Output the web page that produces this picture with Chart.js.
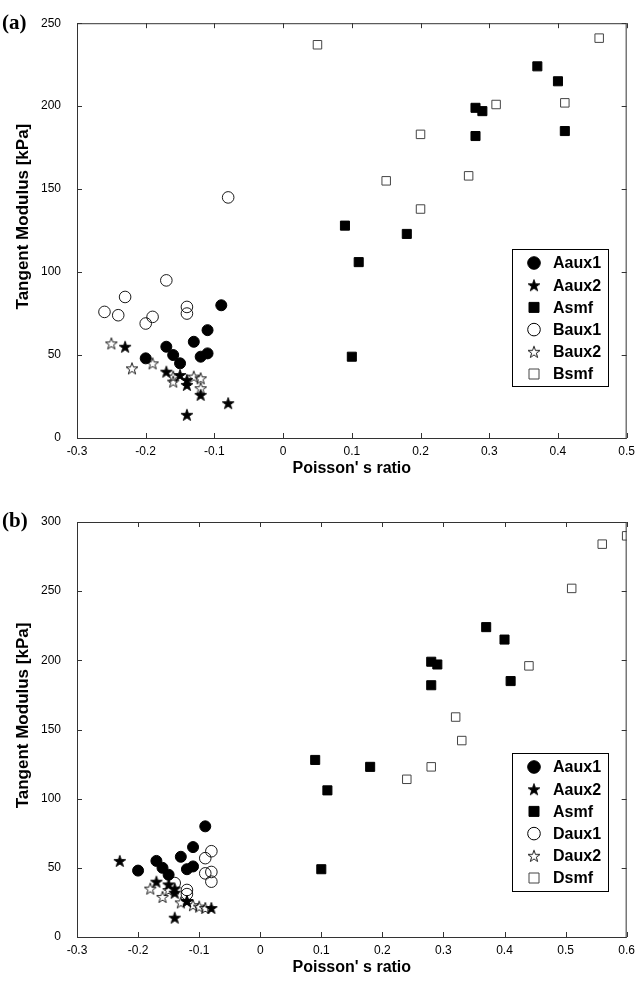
<!DOCTYPE html>
<html lang="en">
<head>
<meta charset="UTF-8">
<title>Tangent Modulus vs Poisson's ratio</title>
<script src="https://cdn.jsdelivr.net/npm/chart.js@4.4.0/dist/chart.umd.min.js"></script>
<style>
  body { margin: 0; background: #fff; }
  #wrap { position: relative; width: 641px; height: 981px; }
  canvas { position: absolute; left: 0; }
  #chartA { top: 0; }
  #chartB { top: 490px; }
</style>
</head>
<body>
<div id="wrap">
  <canvas id="chartA" width="641" height="490"></canvas>
  <canvas id="chartB" width="641" height="491"></canvas>
</div>
<script>
// groups shared by both panels
const aaux1X = [-0.20, -0.17, -0.16, -0.15, -0.13, -0.11, -0.12, -0.11, -0.09];
const aaux1Y = [48, 55, 50, 45, 58, 65, 49, 51, 80];
const aaux2X = [-0.23, -0.17, -0.15, -0.14, -0.14, -0.12, -0.08, -0.14];
const aaux2Y = [55, 40, 38, 35, 32, 26, 21, 14];
const asmfX = [0.37, 0.40, 0.28, 0.29, 0.28, 0.41, 0.09, 0.18, 0.11, 0.10];
const asmfY = [224, 215, 199, 197, 182, 185, 128, 123, 106, 49];

// panel (a)
const baux1X = [-0.26, -0.24, -0.23, -0.20, -0.19, -0.17, -0.14, -0.14, -0.08];
const baux1Y = [76, 74, 85, 69, 73, 95, 79, 75, 145];
const baux2X = [-0.25, -0.22, -0.19, -0.16, -0.16, -0.13, -0.12, -0.12];
const baux2Y = [57, 42, 45, 34, 37, 37, 36, 30];
const bsmfX = [0.05, 0.46, 0.31, 0.41, 0.20, 0.15, 0.27, 0.20];
const bsmfY = [237, 241, 201, 202, 183, 155, 158, 138];

// panel (b)
const daux1X = [-0.08, -0.09, -0.08, -0.09, -0.08, -0.14, -0.12, -0.12];
const daux1Y = [62, 57, 47, 46, 40, 39, 34, 31];
const daux2X = [-0.18, -0.16, -0.15, -0.13, -0.12, -0.11, -0.10, -0.09];
const daux2Y = [35, 29, 34, 25, 26, 23, 22, 21];
const dsmfX = [0.60, 0.56, 0.51, 0.44, 0.32, 0.33, 0.28, 0.24];
const dsmfY = [290, 284, 252, 196, 159, 142, 123, 114];

const xTitle = "Poisson' s ratio";
const yTitle = 'Tangent Modulus [kPa]';

Chart.defaults.font.family = '"Liberation Sans", Arial, sans-serif';
Chart.defaults.color = '#000';

// five-pointed star marker
function makeStar(filled, size) {
  const c = document.createElement('canvas');
  c.width = c.height = size;
  const g = c.getContext('2d');
  const cx = size / 2, cy = size / 2 + 0.6;
  const ro = size / 2 - 0.8, ri = ro * 0.4;
  g.beginPath();
  for (let i = 0; i < 10; i++) {
    const r = i % 2 ? ri : ro;
    const a = -Math.PI / 2 + i * Math.PI / 5;
    g.lineTo(cx + r * Math.cos(a), cy + r * Math.sin(a));
  }
  g.closePath();
  g.lineWidth = 0.9;
  g.strokeStyle = '#000';
  if (filled) { g.fillStyle = '#000'; g.fill(); }
  g.stroke();
  return c;
}
const starFilled = makeStar(true, 14);
const starOpen = makeStar(false, 14);

const pts = (xs, ys) => xs.map((x, i) => ({ x: x, y: ys[i] }));

function ds(label, xs, ys, style) {
  const base = { label: label, data: pts(xs, ys), borderWidth: 1, borderColor: '#000' };
  if (style === 'fcircle') return Object.assign(base, { pointStyle: 'circle', pointRadius: 5.5, backgroundColor: '#000' });
  if (style === 'ocircle') return Object.assign(base, { pointStyle: 'circle', pointRadius: 5.8, backgroundColor: 'rgba(0,0,0,0)', borderWidth: 0.9 });
  if (style === 'fstar') return Object.assign(base, { pointStyle: starFilled, backgroundColor: '#000' });
  if (style === 'ostar') return Object.assign(base, { pointStyle: starOpen, backgroundColor: 'rgba(0,0,0,0)' });
  if (style === 'fsq') return Object.assign(base, { pointStyle: 'rect', pointRadius: 6.4, backgroundColor: '#000' });
  return Object.assign(base, { pointStyle: 'rect', pointRadius: 6, backgroundColor: 'rgba(0,0,0,0)', borderColor: '#444' });
}

function legendMarker(ctx, d, x, y) {
  ctx.save();
  ctx.strokeStyle = '#000';
  ctx.fillStyle = '#000';
  ctx.lineWidth = 1;
  const filled = d.backgroundColor === '#000';
  if (d.pointStyle === 'circle') {
    ctx.beginPath();
    ctx.arc(x, y, 6.3, 0, Math.PI * 2);
    if (filled) ctx.fill();
    ctx.stroke();
  } else if (d.pointStyle === 'rect') {
    ctx.beginPath();
    ctx.rect(x - 5, y - 5, 10, 10);
    if (filled) ctx.fill();
    ctx.strokeStyle = filled ? '#000' : '#444';
    ctx.stroke();
  } else {
    ctx.drawImage(d.pointStyle, x - 7, y - 7);
  }
  ctx.restore();
}

// MATLAB-like box, inward ticks, titles, panel letter and legend
const frame = {
  id: 'frame',
  afterDraw(chart, args, o) {
    const { ctx, chartArea: a, scales: { x, y } } = chart;
    ctx.save();
    ctx.strokeStyle = '#333';
    ctx.lineWidth = 1;
    ctx.strokeRect(a.left + 0.5, a.top + 0.5, a.right - a.left - 1, a.bottom - a.top);
    const t = 5;
    ctx.beginPath();
    x.ticks.forEach(tk => {
      const px = Math.round(x.getPixelForValue(tk.value)) + 0.5;
      ctx.moveTo(px, a.bottom); ctx.lineTo(px, a.bottom - t);
      ctx.moveTo(px, a.top); ctx.lineTo(px, a.top + t);
    });
    y.ticks.forEach(tk => {
      const py = Math.round(y.getPixelForValue(tk.value)) + 0.5;
      ctx.moveTo(a.left, py); ctx.lineTo(a.left + t, py);
      ctx.moveTo(a.right, py); ctx.lineTo(a.right - t, py);
    });
    ctx.stroke();

    // axis titles
    ctx.fillStyle = '#000';
    ctx.font = 'bold 16px "Liberation Sans", Arial, sans-serif';
    ctx.textAlign = 'center';
    ctx.textBaseline = 'middle';
    ctx.fillText(xTitle, (a.left + a.right) / 2, a.bottom + 31);
    ctx.save();
    ctx.font = 'bold 17px "Liberation Sans", Arial, sans-serif';
    ctx.translate(23, (a.top + a.bottom) / 2 - 14);
    ctx.rotate(-Math.PI / 2);
    ctx.fillText(yTitle, 0, 0);
    ctx.restore();

    // panel letter
    ctx.font = 'bold 21px "Liberation Serif", "Times New Roman", serif';
    ctx.textAlign = 'left';
    ctx.fillText(o.letter, 2, a.top);

    // legend
    const L = o.legend;
    ctx.fillStyle = '#fff';
    ctx.fillRect(L.x, L.y, L.w, L.h);
    ctx.strokeStyle = '#000';
    ctx.strokeRect(L.x + 0.5, L.y + 0.5, L.w, L.h);
    ctx.font = 'bold 16px "Liberation Sans", Arial, sans-serif';
    ctx.fillStyle = '#000';
    chart.data.datasets.forEach((d, i) => {
      const ry = L.y + 14 + i * 22.2;
      legendMarker(ctx, d, L.x + 22, ry);
      ctx.fillStyle = '#000';
      ctx.fillText(d.label, L.x + 41, ry + 1);
    });
    ctx.restore();
  }
};

function makeChart(id, datasets, xMax, yMax, topPad, xHeight, letter, legend) {
  return new Chart(document.getElementById(id), {
    type: 'scatter',
    data: { datasets: datasets },
    options: {
      responsive: false,
      animation: false,
      layout: { padding: { top: topPad, right: 14, left: 0, bottom: 0 } },
      plugins: {
        legend: { display: false },
        tooltip: { enabled: false },
        frame: { letter: letter, legend: legend }
      },
      scales: {
        x: {
          type: 'linear', min: -0.3, max: xMax,
          grid: { display: false, drawTicks: false },
          border: { display: false },
          ticks: { stepSize: 0.1, padding: 6, font: { size: 12 }, maxRotation: 0,
                   callback: v => String(Math.round(v * 10) / 10) },
          afterFit: s => { s.height = xHeight; }
        },
        y: {
          type: 'linear', min: 0, max: yMax,
          grid: { display: false, drawTicks: false },
          border: { display: false },
          ticks: { stepSize: 50, padding: 16, font: { size: 12 } },
          afterFit: s => { s.width = 77; }
        }
      }
    },
    plugins: [frame]
  });
}

makeChart('chartA', [
  ds('Aaux1', aaux1X, aaux1Y, 'fcircle'),
  ds('Aaux2', aaux2X, aaux2Y, 'fstar'),
  ds('Asmf', asmfX, asmfY, 'fsq'),
  ds('Baux1', baux1X, baux1Y, 'ocircle'),
  ds('Baux2', baux2X, baux2Y, 'ostar'),
  ds('Bsmf', bsmfX, bsmfY, 'osq')
], 0.5, 250, 22, 52, '(a)', { x: 512, y: 249, w: 96, h: 137 });

makeChart('chartB', [
  ds('Aaux1', aaux1X, aaux1Y, 'fcircle'),
  ds('Aaux2', aaux2X, aaux2Y, 'fstar'),
  ds('Asmf', asmfX, asmfY, 'fsq'),
  ds('Daux1', daux1X, daux1Y, 'ocircle'),
  ds('Daux2', daux2X, daux2Y, 'ostar'),
  ds('Dsmf', dsmfX, dsmfY, 'osq')
], 0.6, 300, 32, 44, '(b)', { x: 512, y: 263, w: 96, h: 138 });
</script>
</body>
</html>
